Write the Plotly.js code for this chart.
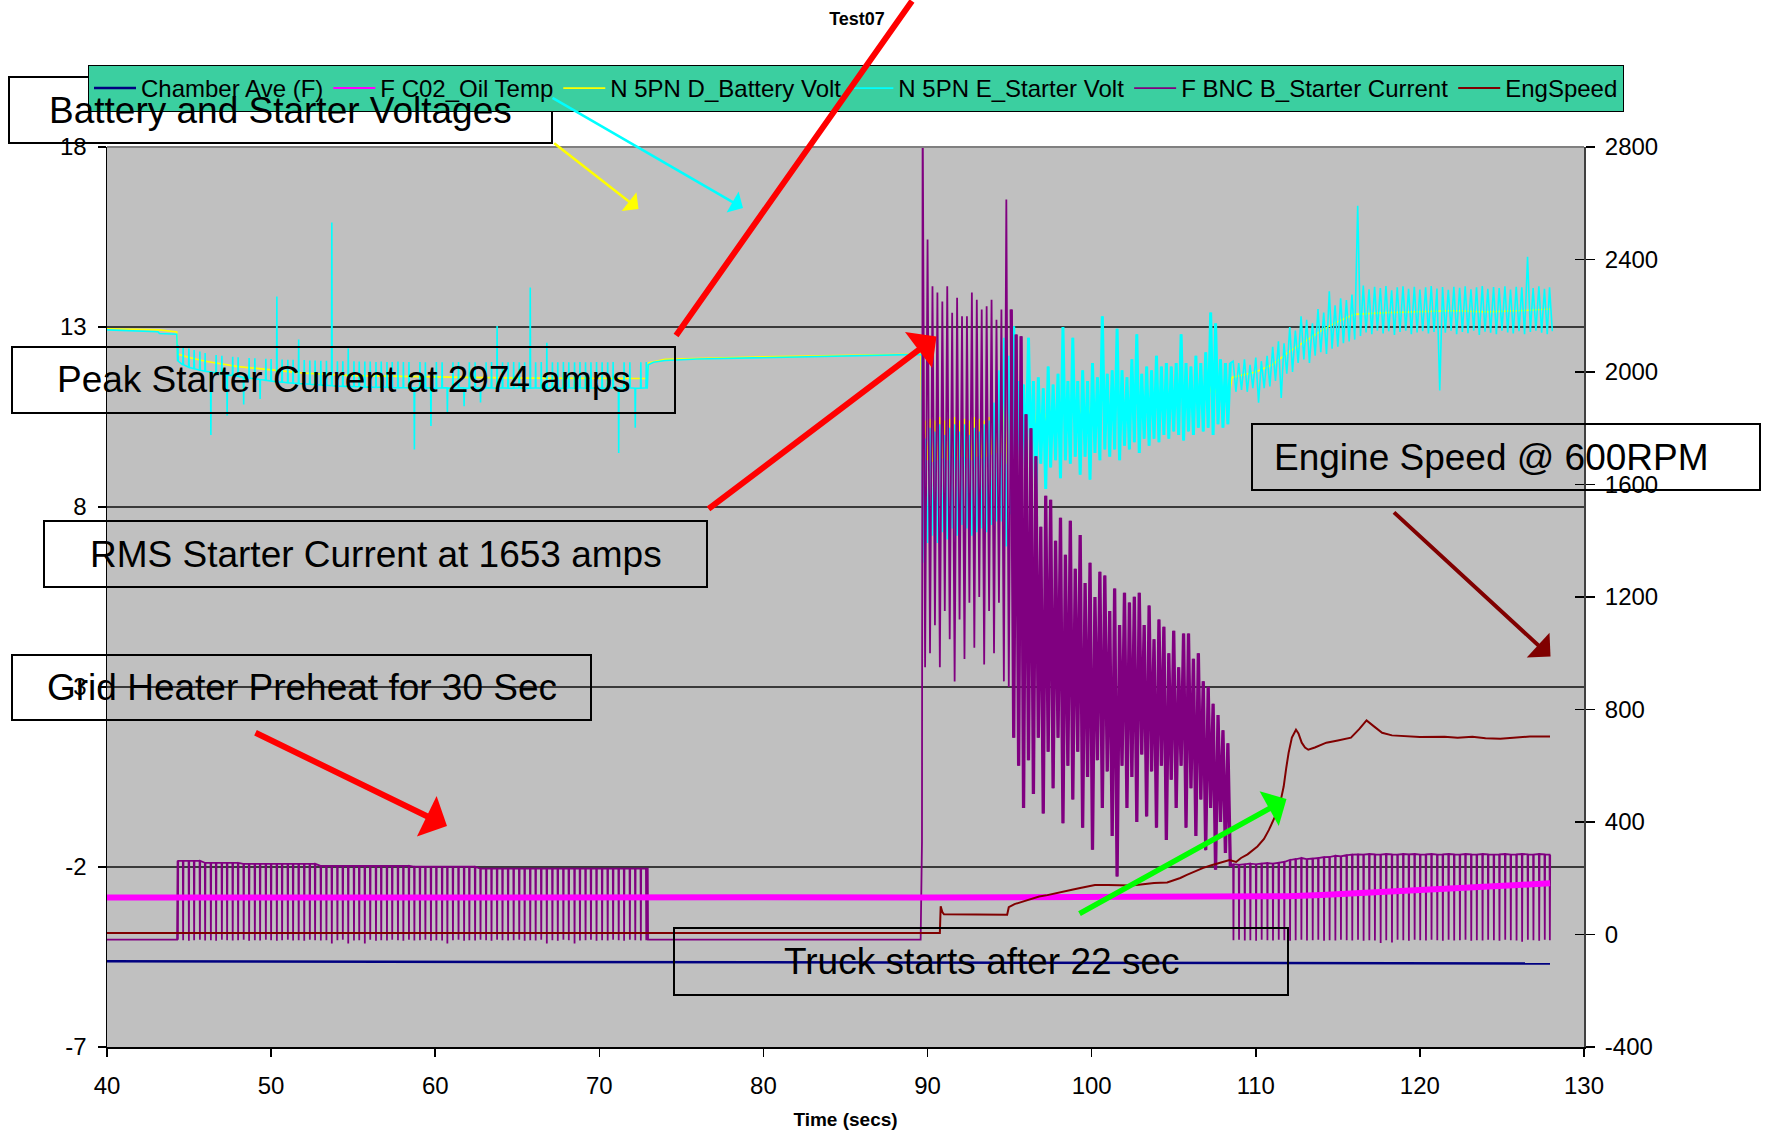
<!DOCTYPE html>
<html><head><meta charset="utf-8">
<script src="https://cdn.plot.ly/plotly-3.0.1.min.js"></script>
<style>html,body{margin:0;padding:0;background:#fff;}#chart{width:1765px;height:1132px;}</style>
</head><body><div id="chart"></div>
<script>
// ---------------- tick labels ----------------
const xTicks = [40, 50, 60, 70, 80, 90, 100, 110, 120, 130];
const xTickText = ['40', '50', '60', '70', '80', '90', '100', '110', '120', '130'];
const leftTicks = [-7, -2, 3, 8, 13, 18];
const leftTickText = ['-7', '-2', '3', '8', '13', '18'];
const rightTicks = [-400, 0, 400, 800, 1200, 1600, 2000, 2400, 2800];
const rightTickText = ['-400', '0', '400', '800', '1200', '1600', '2000', '2400', '2800'];

// ---------------- Chamber Ave (F) ----------------
const chamberT = [40, 60, 73, 90, 100, 110, 120, 127.93];
const chamberF = [-4.62, -4.63, -4.65, -4.66, -4.67, -4.67, -4.68, -4.68];

// ---------------- F C02_Oil Temp ----------------
const oilT = [40, 50, 60, 70, 80, 90, 100, 108, 110, 112, 114, 116, 118, 120, 122, 124, 126, 127.93];
const oilF = [-2.85, -2.84, -2.85, -2.84, -2.84, -2.85, -2.85, -2.84, -2.83, -2.81, -2.78, -2.74, -2.70, -2.66, -2.61, -2.56, -2.50, -2.45];

// ---------------- EngSpeed ----------------
const engT = [40, 90.75, 90.8, 90.9, 91.0, 94.85, 94.95, 95.3, 95.8, 96.3, 96.8, 97.3, 97.8, 98.3, 98.8, 99.3, 99.8, 100.2, 101.0, 101.8, 102.4, 103.0, 103.8, 104.6, 105.4, 105.8, 106.3, 106.8, 107.3, 107.8, 108.4, 108.8, 109.1, 109.5, 110.1, 110.5, 110.8, 111.1, 111.35, 111.55, 111.7, 111.85, 112.0, 112.2, 112.45, 112.6, 112.8, 113.0, 113.2, 113.6, 114.3, 115.0, 115.8, 116.3, 116.75, 117.2, 117.7, 118.3, 119.1, 120.0, 121.5, 122.3, 123.2, 124.0, 124.9, 125.8, 126.7, 127.93];
const engRpm = [5, 5, 100, 80, 72, 70, 97, 108, 117, 125, 135, 140, 147, 152, 159, 165, 170, 176, 176, 176, 174, 178, 183, 185, 201, 212, 225, 237, 246, 255, 265, 258, 272, 285, 313, 340, 372, 410, 443, 485, 526, 590, 646, 700, 728, 715, 682, 665, 657, 665, 682, 690, 700, 730, 761, 740, 717, 708, 704, 702, 703, 700, 703, 698, 696, 700, 704, 704];

// ---------------- idle segments (current / volts) ----------------
const curPreT = [40, 44.27];
const curPreA = [-18, -18];
const curMidT = [72.95, 72.97, 89.58, 89.62, 89.66];
const curMidA = [234, -18, -18, 330, 330];
const svPreT = [40, 41.0, 43.1, 43.2, 44.25];
const svPreV = [12.92, 12.91, 12.87, 12.82, 12.80];
const svMidT = [72.92, 72.98, 73.3, 74.0, 76.0, 80.0, 85.0, 89.6, 89.66];
const svMidV = [11.31, 11.95, 12.02, 12.07, 12.11, 12.15, 12.2, 12.24, 12.2];
const bvPreT = [40, 43.2, 44.25, 44.3, 45, 46, 48, 50, 52, 55, 58, 62, 66, 70, 72.9, 73.0, 74, 80, 89.6];
const bvPreV = [12.95, 12.92, 12.86, 12.25, 12.15, 12.05, 11.9, 11.8, 11.72, 11.65, 11.62, 11.6, 11.58, 11.57, 11.57, 12.0, 12.1, 12.17, 12.25];

// ---------------- grid heater preheat (current dips) ----------------
const gridDipT = [44.30, 44.62, 44.97, 45.29, 45.64, 45.96, 46.31, 46.63, 46.98, 47.30,
  47.64, 47.97, 48.31, 48.64, 48.99, 49.31, 49.66, 49.98, 50.33, 50.65,
  51.00, 51.32, 51.66, 52.00, 52.34, 52.66, 53.01, 53.35, 53.68, 54.02,
  54.35, 54.68, 55.03, 55.35, 55.69, 56.02, 56.37, 56.69, 57.04, 57.36,
  57.71, 58.04, 58.38, 58.71, 59.05, 59.38, 59.72, 60.05, 60.40, 60.72,
  61.06, 61.40, 61.74, 62.06, 62.41, 62.74, 63.08, 63.41, 63.75, 64.08,
  64.42, 64.76, 65.10, 65.43, 65.77, 66.10, 66.44, 66.78, 67.12, 67.45,
  67.79, 68.12, 68.47, 68.80, 69.14, 69.47, 69.81, 70.15, 70.49, 70.82,
  71.16, 71.49, 71.84, 72.17, 72.51, 72.84];
const gridDipLo = [-19, -20, -22, -20, -19, -21, -20, -22, -19, -20,
  -21, -20, -19, -22, -20, -21, -19, -20, -22, -20,
  -19, -21, -20, -22, -19, -20, -21, -20, -32, -20,
  -19, -32, -21, -20, -32, -19, -22, -20, -21, -19,
  -20, -22, -19, -21, -20, -19, -22, -20, -21, -32,
  -20, -19, -22, -20, -21, -19, -20, -22, -19, -20,
  -21, -20, -19, -22, -20, -21, -19, -32, -20, -22,
  -19, -20, -32, -21, -20, -19, -22, -20, -21, -19,
  -20, -22, -19, -20, -21, -20];
const gridTop = [262, 262, 262, 262, 262, 255, 255, 255, 255, 255,
  255, 255, 251, 251, 251, 251, 251, 251, 251, 251,
  251, 251, 251, 251, 251, 251, 244, 244, 244, 244,
  244, 244, 244, 244, 244, 244, 244, 244, 244, 244,
  244, 244, 244, 241, 241, 241, 241, 241, 241, 241,
  241, 241, 241, 241, 241, 234, 234, 234, 234, 234,
  234, 234, 234, 234, 234, 234, 234, 234, 234, 234,
  234, 234, 234, 234, 234, 234, 234, 234, 234, 234,
  234, 234, 234, 234, 234, 234];
const gridVoltBase = [12.05, 11.95, 11.88, 11.84, 11.80, 11.77, 11.75, 11.72, 11.70, 11.67,
  11.65, 11.63, 11.60, 11.58, 11.56, 11.54, 11.52, 11.50, 11.48, 11.47,
  11.45, 11.44, 11.43, 11.42, 11.41, 11.40, 11.39, 11.38, 11.37, 11.36,
  11.35, 11.35, 11.34, 11.34, 11.33, 11.33, 11.32, 11.33, 11.32, 11.32,
  11.31, 11.32, 11.31, 11.31, 11.32, 11.31, 11.31, 11.30, 11.31, 11.31,
  11.30, 11.31, 11.31, 11.30, 11.31, 11.30, 11.31, 11.31, 11.30, 11.31,
  11.30, 11.30, 11.31, 11.30, 11.30, 11.31, 11.30, 11.30, 11.31, 11.30,
  11.30, 11.31, 11.30, 11.31, 11.30, 11.30, 11.31, 11.30, 11.30, 11.31,
  11.30, 11.30, 11.31, 11.30, 11.30, 11.31];
const gridVoltPeak = [12.50, 12.45, 12.40, 12.36, 12.32, 12.28, 10.00, 12.22, 12.20, 10.54,
  12.17, 12.16, 10.85, 12.14, 12.13, 11.00, 12.12, 12.11, 13.85, 12.10,
  12.09, 12.09, 12.65, 12.08, 12.07, 12.07, 12.06, 12.06, 15.90, 12.05,
  12.05, 12.40, 12.05, 12.04, 12.04, 12.04, 12.03, 12.04, 12.03, 12.03,
  12.04, 12.03, 12.03, 9.60, 12.03, 12.02, 10.25, 12.03, 12.02, 10.60,
  12.02, 12.03, 10.80, 12.02, 12.02, 10.90, 12.02, 12.03, 13.03, 12.02,
  12.02, 12.03, 12.02, 12.02, 14.10, 12.02, 12.03, 12.56, 12.02, 12.02,
  12.03, 12.02, 12.02, 12.03, 12.02, 12.02, 12.03, 12.02, 12.02, 12.03,
  9.50, 12.02, 12.02, 10.20, 12.02, 12.03];

// ---------------- cranking ----------------
const crankT = [89.70, 89.85, 90.00, 90.15, 90.30, 90.45, 90.60, 90.75, 90.90, 91.05,
  91.20, 91.35, 91.50, 91.65, 91.80, 91.95, 92.10, 92.25, 92.40, 92.55,
  92.70, 92.85, 93.00, 93.15, 93.30, 93.45, 93.60, 93.75, 93.90, 94.05,
  94.20, 94.35, 94.50, 94.65, 94.80, 94.95, 95.10, 95.25, 95.40, 95.55,
  95.70, 95.85, 96.00, 96.15, 96.30, 96.45, 96.60, 96.75, 96.90, 97.05,
  97.20, 97.35, 97.50, 97.65, 97.80, 97.95, 98.10, 98.25, 98.40, 98.55,
  98.70, 98.85, 99.00, 99.15, 99.30, 99.45, 99.60, 99.75, 99.90, 100.05,
  100.20, 100.35, 100.50, 100.65, 100.80, 100.95, 101.10, 101.25, 101.40, 101.55,
  101.70, 101.85, 102.00, 102.15, 102.30, 102.45, 102.60, 102.75, 102.90, 103.05,
  103.20, 103.35, 103.50, 103.65, 103.80, 103.95, 104.10, 104.25, 104.40, 104.55,
  104.70, 104.85, 105.00, 105.15, 105.30, 105.45, 105.60, 105.75, 105.90, 106.05,
  106.20, 106.35, 106.50, 106.65, 106.80, 106.95, 107.10, 107.25, 107.40, 107.55,
  107.70, 107.85, 108.00, 108.15, 108.30, 108.45];
const crankAmps = [2974, 950, 2471, 1000, 2305, 1100, 2283, 950, 2251, 1150,
  2305, 1050, 2211, 900, 2264, 1120, 2198, 980, 2198, 1180,
  2283, 1020, 2257, 1200, 2222, 960, 2234, 1150, 2257, 1000,
  2186, 1180, 2222, 900, 2613, 880, 2222, 700, 2133, 600,
  2127, 450, 1850, 620, 1800, 500, 1700, 700, 1450, 430,
  1560, 650, 1546, 520, 1400, 700, 1482, 396, 1350, 600,
  1471, 480, 1300, 650, 1420, 380, 1250, 560, 1322, 301,
  1200, 620, 1290, 450, 1276, 580, 1150, 350, 1230, 206,
  1100, 600, 1215, 450, 1180, 560, 1201, 400, 1215, 640,
  1100, 420, 1170, 580, 1050, 380, 1120, 600, 1094, 336,
  1000, 550, 1080, 450, 950, 600, 1070, 380, 1070, 520,
  980, 350, 1000, 480, 900, 300, 881, 450, 820, 230,
  780, 400, 726, 290, 680, 242];
const crankStarterV = [6.45, 9.90, 7.00, 10.20, 7.20, 10.10, 7.00, 10.30, 7.30, 10.00,
  7.10, 10.20, 7.40, 10.30, 7.20, 10.10, 7.50, 10.30, 7.40, 10.00,
  7.20, 10.20, 7.30, 10.10, 7.40, 10.30, 7.30, 10.40, 7.50, 10.90,
  7.60, 11.80, 7.60, 12.70, 6.90, 12.20, 7.80, 13.02, 9.00, 11.50,
  8.60, 11.40, 9.10, 12.70, 9.20, 11.50, 8.30, 11.60, 9.20, 11.30,
  8.50, 11.90, 9.10, 11.40, 9.30, 11.70, 8.80, 13.00, 9.30, 11.50,
  9.20, 12.70, 9.40, 11.50, 8.90, 11.80, 9.40, 11.50, 8.76, 12.00,
  9.50, 11.60, 9.30, 13.30, 9.60, 11.70, 9.40, 11.80, 9.60, 12.95,
  9.30, 11.80, 9.70, 11.60, 9.60, 12.10, 9.80, 12.80, 9.50, 11.70,
  9.90, 11.90, 9.70, 11.80, 9.90, 12.20, 9.80, 11.90, 10.00, 12.00,
  9.90, 11.90, 10.10, 12.00, 10.00, 12.80, 9.85, 12.00, 10.10, 11.90,
  10.00, 12.20, 10.20, 12.00, 10.10, 12.30, 10.20, 13.40, 10.00, 13.10,
  10.30, 12.10, 10.20, 12.00, 10.30, 12.00];
const crankBattV = [9.00, 10.40, 9.30, 10.45, 9.25, 10.40, 9.30, 10.50, 9.35, 10.40,
  9.30, 10.45, 9.40, 10.50, 9.30, 10.40, 9.40, 10.45, 9.35, 10.40,
  9.30, 10.50, 9.40, 10.45, 9.35, 10.40, 9.40, 10.50, 9.45, 10.60,
  9.50, 10.80, 9.50, 10.90, 9.20, 10.90, 9.60, 11.00, 10.20, 10.90,
  10.20, 10.80, 10.30, 11.00, 10.30, 10.90, 10.20, 11.00, 10.40, 10.85,
  10.30, 11.05, 10.40, 10.90, 10.45, 11.00, 10.40, 11.10, 10.50, 10.95,
  10.45, 11.10, 10.50, 11.00, 10.45, 11.05, 10.50, 11.00, 10.45, 11.10,
  10.55, 11.05, 10.50, 11.20, 10.60, 11.05, 10.55, 11.10, 10.60, 11.20,
  10.55, 11.10, 10.65, 11.05, 10.60, 11.15, 10.70, 11.20, 10.65, 11.10,
  10.70, 11.15, 10.65, 11.10, 10.75, 11.20, 10.70, 11.15, 10.80, 11.20,
  10.75, 11.15, 10.80, 11.20, 10.85, 11.30, 10.80, 11.20, 10.85, 11.25,
  10.85, 11.30, 10.90, 11.25, 10.90, 11.30, 10.95, 11.40, 10.90, 11.35,
  10.95, 11.30, 10.95, 11.35, 11.00, 11.30];

// ---------------- engine running ----------------
const runDipT = [108.62, 108.96, 109.31, 109.65, 110.00, 110.34, 110.69, 111.03, 111.38, 111.72,
  112.07, 112.41, 112.76, 113.10, 113.45, 113.79, 114.14, 114.48, 114.83, 115.17,
  115.52, 115.86, 116.21, 116.55, 116.90, 117.24, 117.59, 117.93, 118.28, 118.62,
  118.97, 119.31, 119.66, 120.00, 120.35, 120.69, 121.04, 121.38, 121.73, 122.07,
  122.42, 122.76, 123.11, 123.45, 123.80, 124.14, 124.49, 124.83, 125.18, 125.52,
  125.87, 126.21, 126.56, 126.90, 127.25, 127.59, 127.90];
const runTop = [250, 248, 250, 252, 250, 252, 254, 252, 255, 258,
  265, 268, 272, 268, 270, 272, 275, 276, 280, 278,
  282, 284, 285, 284, 286, 285, 284, 286, 285, 284,
  286, 285, 286, 284, 285, 286, 284, 285, 286, 285,
  284, 286, 285, 284, 286, 285, 284, 285, 286, 284,
  285, 286, 285, 284, 286, 285, 284];
const runDipLo = [-20, -19, -21, -20, -22, -19, -20, -21, -19, -20,
  -22, -20, -19, -21, -20, -19, -22, -20, -21, -19,
  -20, -21, -19, -22, -20, -21, -30, -20, -28, -19,
  -20, -22, -19, -20, -21, -19, -20, -22, -19, -21,
  -20, -19, -22, -20, -21, -19, -20, -22, -19, -20,
  -21, -26, -19, -20, -22, -19, -20];
const runVoltHi = [12.05, 12.00, 12.10, 11.95, 12.15, 12.05, 12.20, 12.45, 12.60, 12.55,
  13.00, 12.90, 13.30, 13.20, 13.10, 13.50, 13.40, 13.99, 13.60, 13.80,
  13.75, 13.90, 16.37, 14.15, 14.05, 14.12, 14.08, 14.14, 14.02, 14.10,
  14.13, 14.06, 14.12, 14.04, 14.10, 14.14, 14.07, 14.11, 14.03, 14.12,
  14.09, 14.13, 14.05, 14.10, 14.14, 14.06, 14.11, 14.08, 14.13, 14.04,
  14.12, 14.10, 14.95, 14.08, 14.13, 14.06, 14.10];
const runVoltLo = [11.20, 11.25, 11.20, 11.30, 10.90, 11.30, 11.35, 11.50, 11.03, 11.70,
  11.75, 12.00, 12.10, 12.00, 12.20, 12.30, 12.25, 12.40, 12.45, 12.55,
  12.60, 12.65, 12.75, 12.85, 12.80, 12.90, 12.82, 12.88, 12.78, 12.86,
  12.90, 12.80, 12.85, 12.88, 12.82, 12.86, 11.24, 12.84, 12.90, 12.80,
  12.86, 12.83, 12.90, 12.78, 12.87, 12.84, 12.80, 12.90, 12.85, 12.82,
  12.88, 12.80, 12.86, 12.90, 12.84, 12.80, 12.88];
const bvRunT = [108.55, 109, 110, 111, 112, 113, 114, 115, 116, 118, 120, 122, 124, 126, 127.93];
const bvRunV = [11.6, 11.65, 11.75, 11.95, 12.3, 12.6, 12.9, 13.15, 13.35, 13.4, 13.42, 13.45, 13.42, 13.45, 13.5];

// ---------------- assemble series (drawing only) ----------------
const DIP_W = 0.02;      // drawn width of a dip / tooth (s)
const RUN_HALF = 0.17;   // offset of the low point after each running peak (s)
const DENSE_FROM = 36;   // first crank sample of the dense (post-95 s) band

const curX = [], curY = [];
curPreT.forEach((t, i) => { curX.push(t); curY.push(curPreA[i]); });
gridDipT.forEach((t, k) => { curX.push(t, t + DIP_W, t + 2 * DIP_W); curY.push(gridTop[k], gridDipLo[k], gridTop[k]); });
curMidT.forEach((t, i) => { curX.push(t); curY.push(curMidA[i]); });
crankT.forEach((t, i) => { curX.push(t); curY.push(crankAmps[i]); });
runDipT.forEach((t, k) => { curX.push(t, t + DIP_W, t + 2 * DIP_W); curY.push(runTop[k], runDipLo[k], runTop[k]); });

const svX = [], svY = [];
svPreT.forEach((t, i) => { svX.push(t); svY.push(svPreV[i]); });
gridDipT.forEach((t, k) => { svX.push(t, t + DIP_W, t + 2 * DIP_W); svY.push(gridVoltBase[k], gridVoltPeak[k], gridVoltBase[k]); });
svMidT.forEach((t, i) => { svX.push(t); svY.push(svMidV[i]); });
crankT.forEach((t, i) => { svX.push(t); svY.push(crankStarterV[i]); });
runDipT.forEach((t, k) => { svX.push(t, t + RUN_HALF); svY.push(runVoltHi[k], runVoltLo[k]); });

const bvX = [], bvY = [];
bvPreT.forEach((t, i) => { bvX.push(t); bvY.push(bvPreV[i]); });
crankT.forEach((t, i) => { bvX.push(t); bvY.push(crankBattV[i]); });
bvRunT.forEach((t, i) => { bvX.push(t); bvY.push(bvRunV[i]); });

// ---------------- geometry helpers ----------------
const L = 107, R = 1584, T = 147, B = 1047, FW = 1765, FH = 1132;
const px = X => (X - L) / (R - L);
const py = Y => (B - Y) / (B - T);
const FONT = 'Liberation Sans, Arial, sans-serif';

const traces = [
  {name: 'Chamber Ave (F)', x: chamberT, y: chamberF, yaxis: 'y', mode: 'lines', line: {color: '#000080', width: 2.5}},
  {name: 'F C02_Oil Temp', x: oilT, y: oilF, yaxis: 'y3', mode: 'lines', line: {color: '#FF00FF', width: 2}},
  {name: 'N 5PN D_Battery Volt', x: bvX, y: bvY, yaxis: 'y', mode: 'lines', line: {color: '#FFFF00', width: 1.6}},
  {name: 'N 5PN E_Starter Volt', x: svX, y: svY, yaxis: 'y', mode: 'lines', line: {color: '#00FFFF', width: 1.6}},
  {name: 'F BNC B_Starter Current', x: curX, y: curY, yaxis: 'y2', mode: 'lines', line: {color: '#800080', width: 1.8}},
  {name: 'EngSpeed', x: engT, y: engRpm, yaxis: 'y4', mode: 'lines', line: {color: '#800000', width: 2}},
  // dense post-95 s cranking band drawn heavier (same data, no legend entry)
  {name: 'N 5PN E_Starter Volt', x: crankT.slice(DENSE_FROM), y: crankStarterV.slice(DENSE_FROM), yaxis: 'y', mode: 'lines', showlegend: false, line: {color: '#00FFFF', width: 3}},
  {name: 'F BNC B_Starter Current', x: crankT.slice(DENSE_FROM), y: crankAmps.slice(DENSE_FROM), yaxis: 'y2', mode: 'lines', showlegend: false, line: {color: '#800080', width: 3.3}},
  {name: 'F C02_Oil Temp', x: oilT, y: oilF, yaxis: 'y3', mode: 'lines', showlegend: false, line: {color: '#FF00FF', width: 6}}
];
traces.forEach(t => { t.hoverinfo = 'skip'; });

const boxes = [
  {x0: 9, y0: 77, x1: 552, y1: 143, cx: 280, cy: 110, text: 'Battery and Starter Voltages'},
  {x0: 12, y0: 347, x1: 675, y1: 413, cx: 343.5, cy: 380, text: 'Peak Starter Current at 2974 amps'},
  {x0: 44, y0: 521, x1: 707, y1: 587, cx: 375.5, cy: 554, text: 'RMS Starter Current at 1653 amps'},
  {x0: 12, y0: 655, x1: 591, y1: 720, cx: 302, cy: 687.5, text: 'Grid Heater Preheat for 30 Sec'},
  {x0: 1252, y0: 424, x1: 1760, y1: 490, cx: 1491.5, cy: 457, text: 'Engine Speed @ 600RPM'},
  {x0: 674, y0: 928, x1: 1288, y1: 995, cx: 981.5, cy: 961.5, text: 'Truck starts after 22 sec'}
];
const arrows = [
  {tx: 552.7, ty: 142, hx: 638.5, hy: 209, c: '#FFFF00', w: 2.5, s: 1.6, h: 1},
  {tx: 551, ty: 97, hx: 743, hy: 208, c: '#00FFFF', w: 2.5, s: 1.6, h: 1},
  {tx: 675, ty: 337, hx: 912, hy: 0, c: '#FF0000', w: 6, s: 1.2, h: 0},
  {tx: 707, ty: 510, hx: 936.5, hy: 336.5, c: '#FF0000', w: 6, s: 1.25, h: 1},
  {tx: 254, ty: 732, hx: 447, hy: 826, c: '#FF0000', w: 6, s: 1.25, h: 1},
  {tx: 1392.5, ty: 511, hx: 1550.5, hy: 656.5, c: '#800000', w: 4, s: 1.4, h: 1},
  {tx: 1078, ty: 914.5, hx: 1286.5, hy: 799, c: '#00FF00', w: 5.5, s: 1.2, h: 1}
];

const shapes = [
  {type: 'line', xref: 'paper', yref: 'paper', x0: 0, x1: 1, y0: 1, y1: 1, line: {color: '#808080', width: 2}, layer: 'above'}
];
boxes.forEach(b => shapes.push({type: 'rect', xref: 'paper', yref: 'paper', x0: px(b.x0), x1: px(b.x1), y0: py(b.y1), y1: py(b.y0),
  line: {color: '#000', width: 2}, fillcolor: 'rgba(0,0,0,0)', layer: 'above'}));

const annotations = [];
arrows.forEach(a => annotations.push({xref: 'paper', yref: 'paper', x: px(a.hx), y: py(a.hy), ax: a.tx - a.hx, ay: a.ty - a.hy,
  text: '', showarrow: true, arrowhead: a.h, arrowsize: a.s, arrowwidth: a.w, arrowcolor: a.c, standoff: 0, startstandoff: 0}));
boxes.forEach(b => annotations.push({xref: 'paper', yref: 'paper', x: px(b.cx), y: py(b.cy), xanchor: 'center', yanchor: 'middle',
  text: b.text, showarrow: false, font: {family: FONT, size: 37, color: '#000'}}));

const layout = {
  width: FW, height: FH,
  margin: {l: L, r: FW - R, t: T, b: FH - B, autoexpand: false},
  paper_bgcolor: '#FFFFFF', plot_bgcolor: '#C0C0C0',
  font: {family: FONT, color: '#000'},
  hovermode: false,
  title: {text: '<b>Test07</b>', font: {family: FONT, size: 18, color: '#000'}, xref: 'container', yref: 'container',
    x: 857 / FW, xanchor: 'center', y: 1 - 18.5 / FH, yanchor: 'middle'},
  showlegend: true,
  legend: {orientation: 'h', x: px(88), y: py(65), xanchor: 'left', yanchor: 'top', bgcolor: '#3BCFA0', bordercolor: '#000', borderwidth: 1,
    font: {family: FONT, size: 24, color: '#000'}, itemwidth: 42, traceorder: 'normal', itemclick: false, itemdoubleclick: false},
  xaxis: {range: [40, 130], tickmode: 'array', tickvals: xTicks, ticktext: xTickText, ticks: 'outside', ticklen: 8, tickwidth: 1.5, tickcolor: '#000',
    showline: true, linecolor: '#000', linewidth: 1.5, showgrid: false, zeroline: false, tickfont: {family: FONT, size: 24}, ticklabelstandoff: 9,
    title: {text: '<b>Time (secs)</b>', font: {family: FONT, size: 19}, standoff: 14}},
  yaxis: {range: [-7, 18], tickmode: 'array', tickvals: leftTicks, ticktext: leftTickText, ticks: 'outside', ticklen: 8, tickwidth: 1.5, tickcolor: '#000',
    showline: true, linecolor: '#000', linewidth: 1.5, showgrid: true, gridcolor: '#3a3a3a', gridwidth: 1.2, zeroline: false,
    tickfont: {family: FONT, size: 24}, ticklabelstandoff: 6},
  yaxis2: {overlaying: 'y', side: 'right', range: [-400, 2800], tickmode: 'array', tickvals: rightTicks, ticktext: rightTickText, ticks: 'outside', ticklen: 9,
    tickwidth: 1.5, tickcolor: '#000', showline: true, linecolor: '#404040', linewidth: 2, showgrid: false, zeroline: false,
    tickfont: {family: FONT, size: 24}, ticklabelstandoff: 5},
  yaxis3: {overlaying: 'y', range: [-7, 18], visible: false},
  yaxis4: {overlaying: 'y', side: 'right', range: [-400, 2800], tickmode: 'array', tickvals: rightTicks, ticks: 'inside', ticklen: 9, tickwidth: 1.5,
    tickcolor: '#000', showticklabels: false, showline: false, showgrid: false, zeroline: false},
  shapes: shapes,
  annotations: annotations
};

Plotly.newPlot('chart', traces, layout, {displayModeBar: false, staticPlot: true});
</script></body></html>
